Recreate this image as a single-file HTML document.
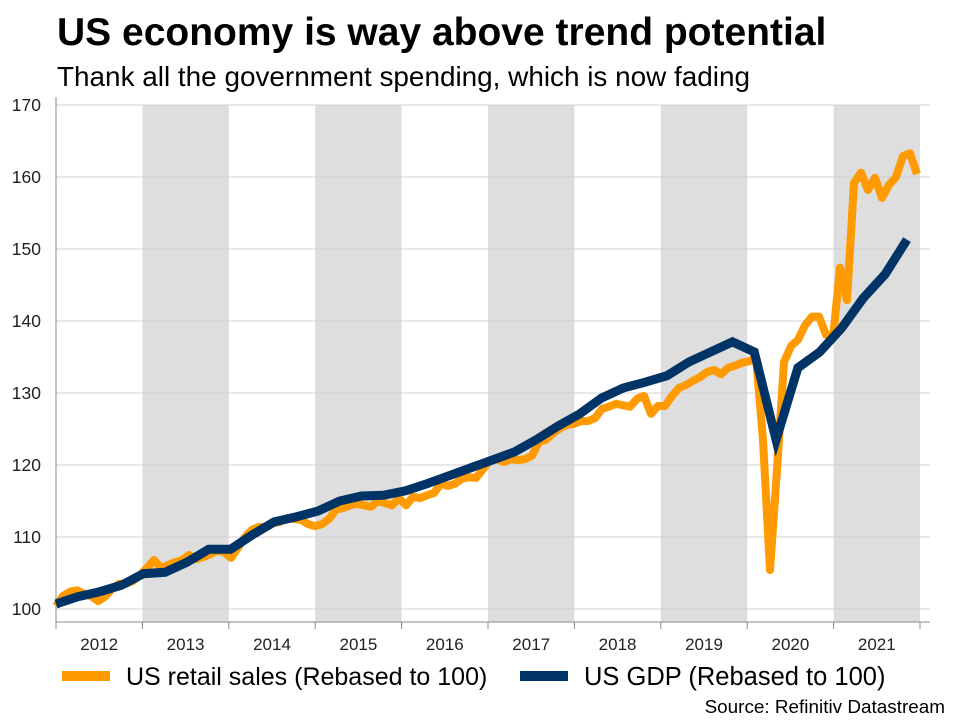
<!DOCTYPE html>
<html><head><meta charset="utf-8"><style>
body{margin:0;background:#fff;font-family:"Liberation Sans",sans-serif;}
svg text{font-family:"Liberation Sans",sans-serif;}
</style></head><body>
<svg id="chart" width="960" height="720" viewBox="0 0 960 720">
<text x="57" y="45" font-size="39" font-weight="bold" fill="#000">US economy is way above trend potential</text>
<text x="57" y="86" font-size="27.9" fill="#000">Thank all the government spending, which is now fading</text>
<g id="bands"></g><g id="grid"></g><g id="axes"></g><g id="series"></g>
<g>
<line x1="62" y1="676" x2="110" y2="676" stroke="#FF9A00" stroke-width="10"/>
<text x="126" y="685" font-size="25" fill="#000">US retail sales (Rebased to 100)</text>
<line x1="520" y1="676" x2="568" y2="676" stroke="#003366" stroke-width="10"/>
<text x="584" y="685" font-size="25.5" fill="#000">US GDP (Rebased to 100)</text>
</g>
<text x="945" y="713" font-size="18.9" text-anchor="end" fill="#000">Source: Refinitiv Datastream</text>
</svg>
<script>
const years=["2012","2013","2014","2015","2016","2017","2018","2019","2020","2021"];
const yTicks=[100,110,120,130,140,150,160,170];
const gdp=[100.7,101.7,102.4,103.3,104.9,105.1,106.5,108.3,108.3,110.3,112.1,112.8,113.6,115.0,115.7,115.8,116.4,117.4,118.5,119.6,120.7,121.8,123.5,125.4,127.1,129.3,130.7,131.5,132.4,134.3,135.7,137.1,135.7,123.5,133.5,135.7,139.0,143.2,146.5,151.3];
const retail=[100.4,101.8,102.4,102.6,102.1,101.8,101.1,101.7,102.8,103.5,103.5,103.9,104.7,105.7,106.8,105.7,106.1,106.5,106.8,107.5,106.9,107.2,107.6,108.1,107.9,107.1,108.5,110.0,111.0,111.4,111.4,111.9,112.1,112.6,112.5,112.4,111.8,111.5,111.8,112.5,113.8,114.0,114.4,114.6,114.4,114.2,115.0,114.7,114.4,115.4,114.4,115.6,115.4,115.8,116.1,117.4,117.1,117.4,118.1,118.3,118.2,119.4,120.7,120.8,120.4,120.8,120.7,120.8,121.3,123.2,123.5,124.4,125.1,125.6,125.7,126.1,126.1,126.5,127.8,128.1,128.5,128.3,128.1,129.2,129.6,127.1,128.2,128.2,129.6,130.7,131.1,131.7,132.2,132.9,133.2,132.6,133.5,133.8,134.2,134.4,134.9,123.5,105.4,119.3,134.3,136.5,137.4,139.4,140.6,140.6,138.1,137.6,147.4,142.9,159.2,160.6,158.2,159.9,157.1,158.9,160.0,162.9,163.3,160.4];
const NS="http://www.w3.org/2000/svg";
const X0=56,X1=920,Y0=609,YPER=7.2,TOP=105,BOT=622;
function yS(v){return Y0-(v-100)*YPER;}
function yearX(i){return X0+i*(X1-X0)/years.length;}
function seriesX(i,n,endX){return X0+i*(endX-X0)/(n-1);}
function mk(tag,attrs,parent){const e=document.createElementNS(NS,tag);for(const k in attrs)e.setAttribute(k,attrs[k]);document.getElementById(parent).appendChild(e);return e;}
years.forEach((y,i)=>{
  if(i%2===1){const r=mk('rect',{x:yearX(i),y:TOP,width:yearX(i+1)-yearX(i),height:BOT-TOP,fill:'#dedede'},'bands');
  
  }
  const t=mk('text',{x:(yearX(i)+yearX(i+1))/2,y:650,'font-size':17,'text-anchor':'middle',fill:'#222'},'axes');t.textContent=y;
  
  
});
for(let i=0;i<=years.length;i++){const l=mk('line',{x1:yearX(i),x2:yearX(i),y1:BOT,y2:BOT+7,stroke:'#888'},'axes');

}
yTicks.forEach(v=>{
  const g=mk('line',{x1:X0,x2:930,y1:yS(v),y2:yS(v),stroke:'#d0d0d0','stroke-width':1},'grid');
  
  
  const t=mk('text',{x:41,y:yS(v)+6,'font-size':17.5,'text-anchor':'end',fill:'#222'},'axes');t.textContent=v;
  
  
});
const ax=mk('line',{x1:X0,x2:X0,y1:TOP-8,y2:BOT,stroke:'#888'},'axes');


const bx=mk('line',{x1:X0,x2:930,y1:BOT,y2:BOT,stroke:'#888'},'axes');


const rp=mk('polyline',{points:retail.map((v,i)=>seriesX(i,retail.length,917)+','+yS(v)).join(' '),fill:'none',stroke:'#FF9A00','stroke-width':8,'stroke-linejoin':'round'},'series');


const gp=mk('polyline',{points:gdp.map((v,i)=>seriesX(i,gdp.length,907)+','+yS(v)).join(' '),fill:'none',stroke:'#003366','stroke-width':9,'stroke-linejoin':'miter'},'series');


</script>
</body></html>
